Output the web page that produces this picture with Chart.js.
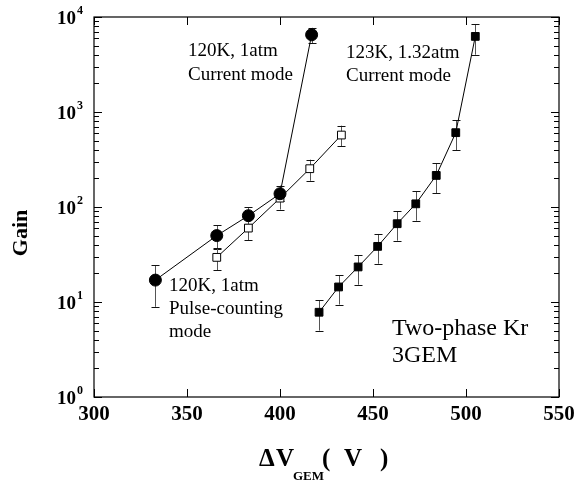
<!DOCTYPE html>
<html>
<head>
<meta charset="utf-8">
<script src="https://cdn.jsdelivr.net/npm/chart.js@4/dist/chart.umd.min.js"></script>
<style>
  html, body { margin: 0; padding: 0; background: #fff; }
  #wrap { width: 575px; height: 480px; }
</style>
</head>
<body>
<div id="wrap"><canvas id="gainChart" width="575" height="480"></canvas></div>
<script>
// --- data ---
const xTicks = [300, 350, 400, 450, 500, 550];
const yDecades = [1, 10, 100, 1000, 10000];
const yExponents = ['0', '1', '2', '3', '4'];

// 120K, 1atm, current mode (filled circles)
const curr120X = [333, 366, 383, 400, 417];
const curr120Y = [17, 50, 81, 138, 6500];
const curr120Hi = [24.5, 64, 100, 168, 7700];
const curr120Lo = [8.9, 36, 66, 115, 5300];

// 120K, 1atm, pulse-counting mode (open squares)
const pulse120X = [366, 383, 400, 416, 433];
const pulse120Y = [29.5, 60, 124, 253, 572];
const pulse120Hi = [37, 79, 152, 315, 718];
const pulse120Lo = [21.5, 44.5, 94, 189, 434];

// 123K, 1.32atm, current mode (filled squares)
const curr123X = [421, 431.5, 442, 452.5, 463, 473, 484, 494.5, 505];
const curr123Y = [7.8, 14.4, 23.4, 38.5, 66.7, 108, 215, 606, 6250];
const curr123Hi = [10.4, 19.2, 31.2, 52, 90.7, 146, 288, 816, 8440];
const curr123Lo = [5.0, 9.4, 15.2, 25.3, 44.2, 71.8, 140, 394, 4010];

const SERIF = '"Liberation Serif", "Times New Roman", serif';

function toPoints(xs, ys) {
    return xs.map((x, i) => ({ x: x, y: ys[i] }));
}

// annotation labels inside the plot
const notes = [
    { lines: ['120K, 1atm', 'Current mode'], x: 188, y: 56, step: 24, size: 19 },
    { lines: ['123K, 1.32atm', 'Current mode'], x: 346, y: 58, step: 23, size: 19 },
    { lines: ['120K, 1atm', 'Pulse-counting', 'mode'], x: 169, y: 291, step: 23, size: 19 },
    { lines: ['Two-phase Kr', '3GEM'], x: 392, y: 335, step: 27, size: 24 }
];

// error bars, drawn under the markers
const errorBars = {
    id: 'errorBars',
    beforeDatasetsDraw(chart) {
        const ctx = chart.ctx;
        const xs = chart.scales.x, ys = chart.scales.y;
        ctx.save();
        chart.data.datasets.forEach(ds => {
            ds.data.forEach((p, i) => {
                const px = Math.round(xs.getPixelForValue(p.x)) + 0.5;
                const top = ys.getPixelForValue(ds.errHi[i]);
                const bot = ys.getPixelForValue(ds.errLo[i]);
                ctx.strokeStyle = '#555';
                ctx.lineWidth = 1;
                ctx.beginPath();
                ctx.moveTo(px, top);
                ctx.lineTo(px, bot);
                ctx.stroke();
                ctx.strokeStyle = '#111';
                ctx.beginPath();
                ctx.moveTo(px - 4, Math.round(top) + 0.5);
                ctx.lineTo(px + 4, Math.round(top) + 0.5);
                ctx.moveTo(px - 4, Math.round(bot) + 0.5);
                ctx.lineTo(px + 4, Math.round(bot) + 0.5);
                ctx.stroke();
            });
        });
        ctx.restore();
    }
};

// frame, inward ticks on all four sides, tick labels, titles, notes
const frameAndText = {
    id: 'frameAndText',
    afterDraw(chart) {
        const ctx = chart.ctx;
        const a = chart.chartArea;
        const xs = chart.scales.x, ys = chart.scales.y;
        ctx.save();
        ctx.strokeStyle = '#000';
        ctx.lineWidth = 1.2;
        ctx.strokeRect(a.left, a.top, a.right - a.left, a.bottom - a.top);

        ctx.lineWidth = 1;
        ctx.beginPath();
        xTicks.forEach(v => {
            const px = Math.round(xs.getPixelForValue(v)) + 0.5;
            ctx.moveTo(px, a.bottom); ctx.lineTo(px, a.bottom - 8);
            ctx.moveTo(px, a.top); ctx.lineTo(px, a.top + 8);
        });
        yDecades.forEach((d, k) => {
            const py = Math.round(ys.getPixelForValue(d)) + 0.5;
            ctx.moveTo(a.left, py); ctx.lineTo(a.left + 8, py);
            ctx.moveTo(a.right, py); ctx.lineTo(a.right - 8, py);
            if (k < yDecades.length - 1) {
                for (let m = 2; m <= 9; m++) {
                    const pm = Math.round(ys.getPixelForValue(d * m)) + 0.5;
                    ctx.moveTo(a.left, pm); ctx.lineTo(a.left + 5, pm);
                    ctx.moveTo(a.right, pm); ctx.lineTo(a.right - 5, pm);
                }
            }
        });
        ctx.stroke();

        ctx.fillStyle = '#000';
        // x tick labels
        ctx.font = 'bold 21px ' + SERIF;
        ctx.textAlign = 'center';
        ctx.textBaseline = 'middle';
        xTicks.forEach(v => ctx.fillText(String(v), xs.getPixelForValue(v), a.bottom + 18));

        // y tick labels as 10 with a raised exponent
        yDecades.forEach((d, k) => {
            const py = ys.getPixelForValue(d);
            ctx.textAlign = 'right';
            ctx.font = 'bold 19px ' + SERIF;
            ctx.fillText('10', a.left - 18, py + 2);
            ctx.textAlign = 'left';
            ctx.font = 'bold 12px ' + SERIF;
            ctx.fillText(yExponents[k], a.left - 17, py - 6);
        });

        // y title
        ctx.save();
        ctx.translate(21, 233);
        ctx.rotate(-Math.PI / 2);
        ctx.textAlign = 'center';
        ctx.font = 'bold 22px ' + SERIF;
        ctx.fillText('Gain', 0, 0);
        ctx.restore();

        // x title: Δ V_GEM ( V )
        ctx.textAlign = 'left';
        ctx.textBaseline = 'middle';
        ctx.font = 'bold 25px ' + SERIF;
        ctx.fillText('\u0394', 259, 460);
        ctx.fillText('V', 276, 460);
        ctx.fillText('(', 322, 460);
        ctx.fillText('V', 344, 460);
        ctx.fillText(')', 380, 460);
        ctx.font = 'bold 13px ' + SERIF;
        ctx.fillText('GEM', 293, 477);

        // notes
        ctx.textBaseline = 'alphabetic';
        notes.forEach(n => {
            ctx.font = n.size + 'px ' + SERIF;
            n.lines.forEach((t, i) => ctx.fillText(t, n.x, n.y + i * n.step));
        });
        ctx.restore();
    }
};

new Chart(document.getElementById('gainChart'), {
    type: 'scatter',
    data: {
        datasets: [
            {
                label: '120K, 1atm, current mode',
                data: toPoints(curr120X, curr120Y),
                errHi: curr120Hi, errLo: curr120Lo,
                showLine: true, borderColor: '#000', borderWidth: 1,
                pointStyle: 'circle', pointRadius: 6,
                pointBackgroundColor: '#000', pointBorderColor: '#000'
            },
            {
                label: '120K, 1atm, pulse-counting mode',
                data: toPoints(pulse120X, pulse120Y),
                errHi: pulse120Hi, errLo: pulse120Lo,
                showLine: true, borderColor: '#000', borderWidth: 1,
                pointStyle: 'rect', pointRadius: 5.5, pointBorderWidth: 1,
                pointBackgroundColor: '#fff', pointBorderColor: '#000'
            },
            {
                label: '123K, 1.32atm, current mode',
                data: toPoints(curr123X, curr123Y),
                errHi: curr123Hi, errLo: curr123Lo,
                showLine: true, borderColor: '#000', borderWidth: 1,
                pointStyle: 'rect', pointRadius: 5.5,
                pointBackgroundColor: '#000', pointBorderColor: '#000'
            }
        ]
    },
    options: {
        responsive: false,
        animation: false,
        layout: { padding: { left: 94, top: 17, right: 16, bottom: 83 } },
        plugins: { legend: { display: false }, tooltip: { enabled: false } },
        scales: {
            x: { type: 'linear', min: 300, max: 550, display: false },
            y: { type: 'logarithmic', min: 1, max: 10000, display: false }
        }
    },
    plugins: [errorBars, frameAndText]
});
</script>
</body>
</html>
